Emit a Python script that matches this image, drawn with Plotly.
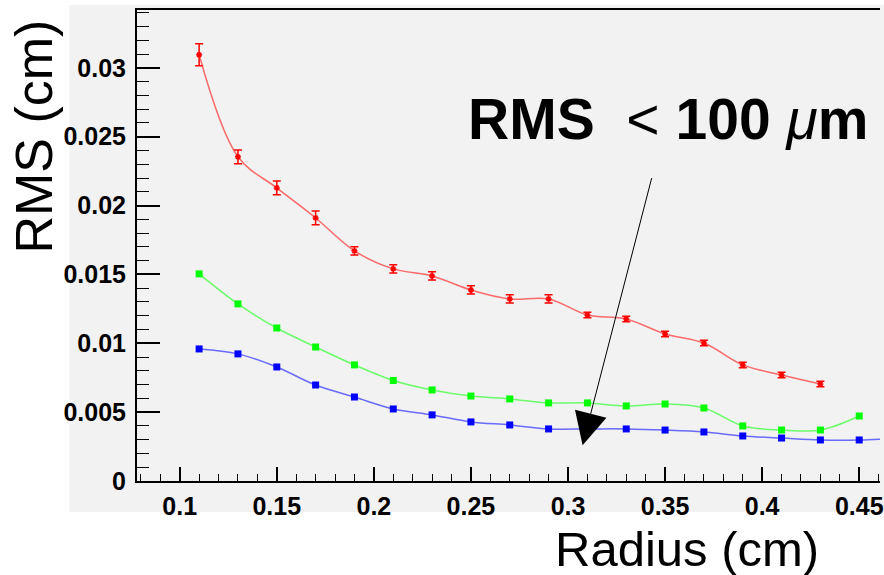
import plotly.graph_objects as go

# ---- data ----
x_red = [0.11, 0.13, 0.15, 0.17, 0.19, 0.21, 0.23, 0.25, 0.27, 0.29, 0.31, 0.33, 0.35, 0.37, 0.39, 0.41, 0.43]
y_red = [0.03095, 0.02354, 0.02128, 0.0191, 0.01671, 0.0154, 0.01489, 0.01387, 0.01322, 0.01322,
         0.01206, 0.01177, 0.01068, 0.01002, 0.00843, 0.0077, 0.00705]
e_red = [0.0008, 0.0005, 0.0005, 0.0005, 0.0003, 0.0003, 0.0003, 0.0003, 0.0003, 0.0003,
         0.0002, 0.0002, 0.0002, 0.0002, 0.0002, 0.0002, 0.0002]

x_green = [0.11, 0.13, 0.15, 0.17, 0.19, 0.21, 0.23, 0.25, 0.27, 0.29, 0.31, 0.33, 0.35, 0.37, 0.39, 0.41, 0.43, 0.45]
y_green = [0.01504, 0.01286, 0.01111, 0.00973, 0.00843, 0.0073, 0.00661, 0.00617, 0.00596, 0.00567,
           0.00567, 0.00545, 0.00559, 0.0053, 0.0040, 0.0037, 0.0037, 0.00472]

x_blue = [0.11, 0.13, 0.15, 0.17, 0.19, 0.21, 0.23, 0.25, 0.27, 0.29, 0.31, 0.33, 0.35, 0.37, 0.39, 0.41, 0.43, 0.45, 0.47]
y_blue = [0.00959, 0.00923, 0.00828, 0.00697, 0.0061, 0.00523, 0.0048, 0.00429, 0.00407, 0.00378,
          0.00378, 0.00378, 0.0037, 0.00356, 0.00327, 0.00312, 0.00298, 0.00298, 0.0031]

x_title = "Radius (cm)"
y_title = "RMS (cm)"
note_text = "<b>RMS</b>  &lt;<b> 100 </b><i>μ</i><b>m</b>"

# ---- figure ----
L, T, W, H = 137, 10, 884, 575
B = 575 - 481
pw, ph = W - L, H - T - B

def px(xp):
    return (xp - L) / pw

def py(yp):
    return (H - B - yp) / ph

fig = go.Figure()

fig.add_trace(go.Scatter(
    x=x_red, y=y_red, mode="lines+markers",
    line=dict(color="rgba(255,60,60,0.75)", width=1.5, shape="spline"),
    marker=dict(symbol="asterisk-open", size=5, color="red", line=dict(color="red", width=1.5)),
    error_y=dict(type="data", array=e_red, color="red", thickness=1.5, width=4),
    showlegend=False, cliponaxis=True))

fig.add_trace(go.Scatter(
    x=x_green, y=y_green, mode="lines+markers",
    line=dict(color="rgba(60,255,60,0.75)", width=1.5, shape="spline"),
    marker=dict(symbol="square", size=7, color="#00ff00"),
    showlegend=False))

fig.add_trace(go.Scatter(
    x=x_blue, y=y_blue, mode="lines+markers",
    line=dict(color="rgba(60,60,255,0.75)", width=1.5, shape="spline"),
    marker=dict(symbol="square", size=7, color="#0000ff"),
    showlegend=False))

axis_font = dict(family="Liberation Sans, Arial, sans-serif", size=25, color="black", weight="bold")

fig.update_xaxes(
    range=[0.078, 0.4607], showgrid=False, zeroline=False,
    showline=True, linecolor="black", linewidth=2, mirror=True,
    ticks="inside", ticklen=14, tickwidth=1.5, tickcolor="black",
    dtick=0.05, tick0=0, tickfont=axis_font, ticklabelstandoff=2,
    ticklabeloverflow="allow",
    minor=dict(dtick=0.01, ticks="inside", ticklen=7, tickwidth=1.2, tickcolor="black"))

fig.update_yaxes(
    range=[0, 0.0342], showgrid=False, zeroline=False,
    showline=True, linecolor="black", linewidth=2, mirror=False,
    ticks="inside", ticklen=23, tickwidth=1.5, tickcolor="black",
    dtick=0.005, tick0=0, tickfont=axis_font, ticklabelstandoff=4,
    ticklabeloverflow="allow",
    minor=dict(dtick=0.001, ticks="inside", ticklen=12, tickwidth=1.2, tickcolor="black"))

fig.add_shape(type="rect", xref="paper", yref="paper",
              x0=px(69), x1=px(900), y0=py(512), y1=py(5),
              fillcolor="#f2f2f2", line=dict(width=0), layer="below")

fig.add_annotation(text=y_title, xref="paper", yref="paper", x=px(33), y=py(137),
                   textangle=-90, showarrow=False, xanchor="center", yanchor="middle",
                   font=dict(family="Liberation Sans, Arial, sans-serif", size=52, color="black"))

fig.add_annotation(text=x_title, xref="paper", yref="paper", x=px(690), y=py(549),
                   showarrow=False, xanchor="center", yanchor="middle",
                   font=dict(family="Liberation Sans, Arial, sans-serif", size=49, color="black"))

fig.add_annotation(text=note_text, xref="paper", yref="paper", x=px(671), y=py(119),
                   showarrow=False, xanchor="center", yanchor="middle",
                   font=dict(family="Liberation Sans, Arial, sans-serif",
                             size=57, color="black"))

fig.add_annotation(text="", x=0.3075, y=0.0026, xref="x", yref="y",
                   ax=0.3433, ay=0.0221, axref="x", ayref="y",
                   showarrow=True, arrowhead=2, arrowsize=6.5, arrowwidth=1,
                   arrowcolor="black", standoff=0)

fig.update_layout(
    width=W, height=H,
    margin=dict(l=L, r=0, t=T, b=B, pad=0),
    paper_bgcolor="white", plot_bgcolor="#f2f2f2",
    showlegend=False)

fig.write_html("out.html")
